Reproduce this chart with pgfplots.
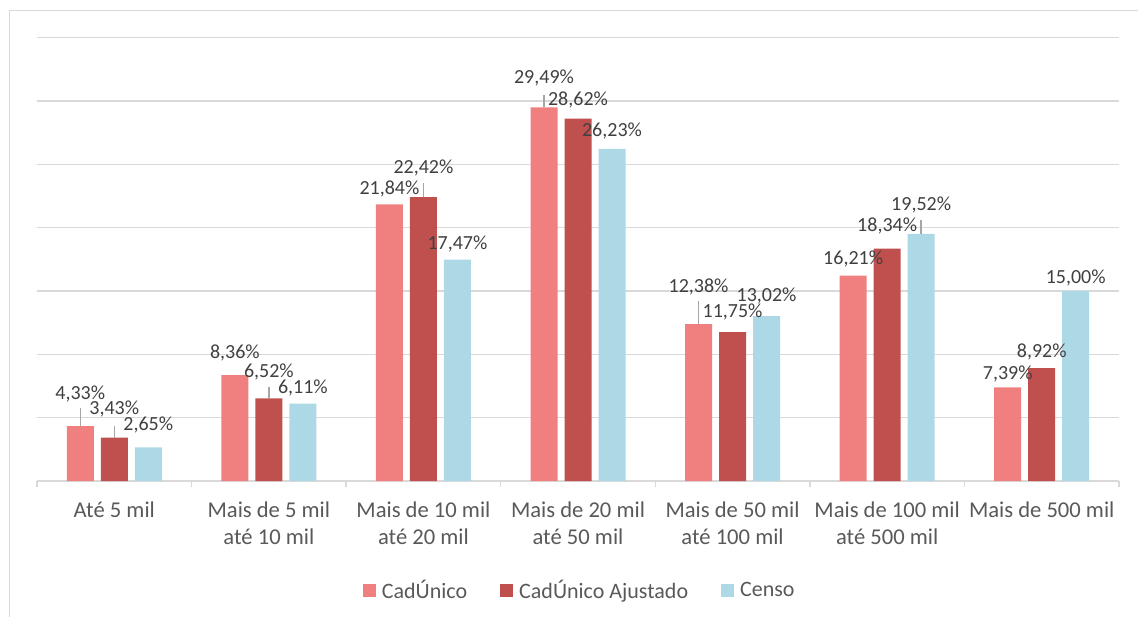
\documentclass[border=0pt]{standalone}
\usepackage{fontspec}
\setmainfont{Carlito}
\usepackage{pgfplots}
\pgfplotsset{compat=1.18}
\usepackage{pgfplotstable}

\definecolor{cad}{HTML}{F08080}
\definecolor{cadaj}{HTML}{C0504D}
\definecolor{censo}{HTML}{ADD8E6}
\definecolor{gridc}{HTML}{D9D9D9}
\definecolor{lbl}{HTML}{404040}
\definecolor{axlbl}{HTML}{595959}
\definecolor{leader}{HTML}{A6A6A6}

% x = category, y = share (%), dy = label lift (pt), err = leader length (%)
\pgfplotstableread{
x y dy err
0 4.33 16.35 1.40
1 8.36 11.0 0
2 21.84 7.75 0
3 29.49 14.6 1.00
4 12.38 18.8 1.86
5 16.21 8.4 0
6 7.39 6.7 0
}\cadunico
\pgfplotstableread{
x y dy err
0 3.43 14.35 0.95
1 6.52 13.25 0.93
2 22.42 14.6 1.12
3 28.62 9.35 0
4 11.75 9.9 0
5 18.34 11.4 0
6 8.92 8.15 0
}\cadajust
\pgfplotstableread{
x y dy err
0 2.65 11.35 0
1 6.11 7.8 0
2 17.47 8.0 0
3 26.23 8.7 0
4 13.02 10.3 0
5 19.52 14.5 1.11
6 15.00 6.35 0
}\censo

\pgfplotsset{sq legend/.style={legend image code/.code={
  \fill[##1, draw=none] (0pt,-3.25pt) rectangle (6.5pt,3.25pt);}}}

\begin{document}
\begin{tikzpicture}
\useasboundingbox (-18.5pt,-67.5pt) rectangle (550.5pt,240.5pt);
\draw[gridc, line width=0.75pt] (-13.75pt,-80pt) -- (-13.75pt,235.15pt) -- (580pt,235.15pt);
\begin{axis}[
  scale only axis,
  width=541pt, height=221.65pt,
  ybar=3.5pt, bar width=13.5pt,
  xmin=-0.5, xmax=6.5, ymin=0, ymax=35,
  xtick={0,...,6},
  xticklabels={Até 5 mil, {Mais de 5 mil\\até 10 mil}, {Mais de 10 mil\\até 20 mil},
    {Mais de 20 mil\\até 50 mil}, {Mais de 50 mil\\até 100 mil},
    {Mais de 100 mil\\até 500 mil}, Mais de 500 mil},
  minor xtick={-0.5,0.5,...,6.5},
  ytick={0,5,...,35}, yticklabels={},
  ymajorgrids, grid style={gridc, line width=0.75pt},
  axis lines*=left,
  y axis line style={draw=none},
  x axis line style={gridc, line width=0.75pt},
  major tick length=0pt, minor tick length=3pt, tick align=outside,
  minor tick style={gridc, line width=0.75pt},
  xticklabel style={font=\fontsize{11.3}{13.6}\selectfont, text=axlbl, align=center,
    anchor=north, inner sep=0pt, yshift=-10pt},
  visualization depends on={\thisrow{dy} \as \dy},
  nodes near coords={\pgfmathprintnumber[fixed, fixed zerofill, precision=2, use comma, assume math mode=true]{\pgfplotspointmeta}\%},
  nodes near coords style={font=\fontsize{10}{12}\selectfont, text=lbl, anchor=center,
    inner sep=0pt, yshift=\dy pt},
  error bars/y dir=plus, error bars/y explicit,
  error bars/error mark=none,
  error bars/error bar style={draw=leader, line width=0.75pt},
  legend columns=3,
  legend style={at={(0.503,-0.248)}, anchor=center, draw=none, fill=none,
    font=\fontsize{11}{13}\selectfont, text=axlbl,
    nodes={inner sep=2.5pt},
    /tikz/every odd column/.append style={column sep=0.5pt},
    /tikz/every even column/.append style={column sep=14pt}},
]
\addplot[fill=cad, draw=none, sq legend] table[x=x, y=y, y error=err] {\cadunico};
\addlegendentry{CadÚnico}
\addplot[fill=cadaj, draw=none, sq legend] table[x=x, y=y, y error=err] {\cadajust};
\addlegendentry{CadÚnico Ajustado}
\addplot[fill=censo, draw=none, sq legend] table[x=x, y=y, y error=err] {\censo};
\addlegendentry{Censo}
\end{axis}
\end{tikzpicture}
\end{document}
